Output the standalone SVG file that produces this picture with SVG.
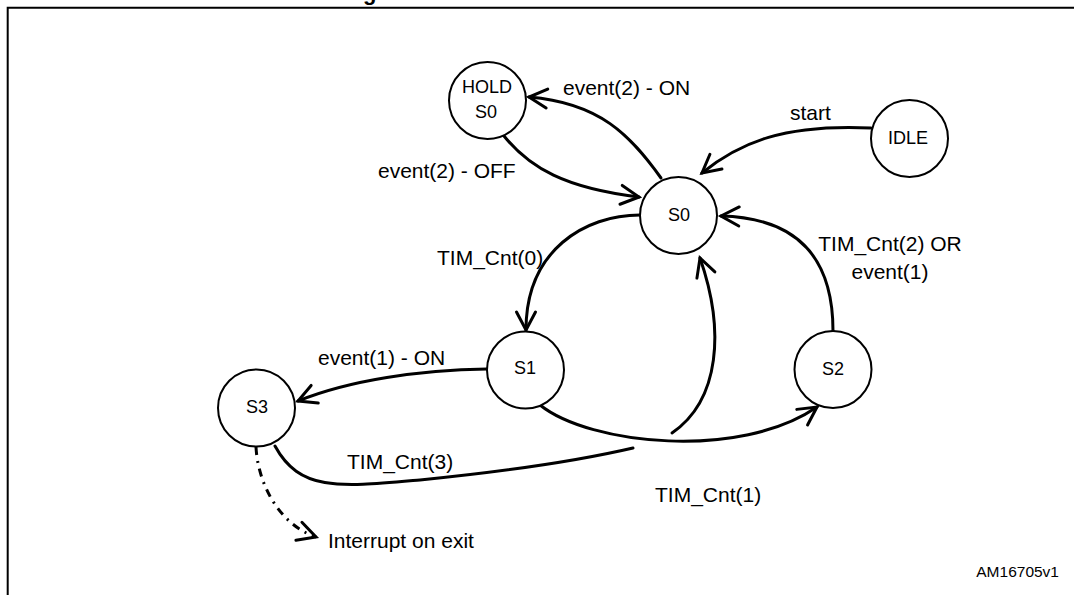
<svg xmlns="http://www.w3.org/2000/svg" width="1074" height="595" viewBox="0 0 1074 595">
<style>
.st{fill:#fff;stroke:#000;stroke-width:2}
.nl{font-family:"Liberation Sans",Arial,sans-serif;font-size:18px;fill:#000;text-anchor:middle}
.el{font-family:"Liberation Sans",Arial,sans-serif;font-size:21px;fill:#000}
.ed{fill:none;stroke:#000;stroke-width:3;stroke-linecap:round}
.dd{stroke-dasharray:8 6 2 6;stroke-linecap:butt}
</style>
<defs>
<marker id="ah" viewBox="-22 -12 26 24" refX="0" refY="0" markerWidth="26" markerHeight="24" markerUnits="userSpaceOnUse" orient="auto">
<path d="M-18,-9.5 L0,0 L-18,9.5" fill="none" stroke="#000" stroke-width="3" stroke-linecap="round"/>
</marker>
</defs>
<rect width="1074" height="595" fill="#fff"/>
<text x="363" y="-0.5" font-family="Liberation Sans,Arial,sans-serif" font-size="22" font-weight="bold">g</text>
<path d="M7.7,595 L7.7,7.7 L1074,7.7" fill="none" stroke="#000" stroke-width="2"/>
<g id="connectors">
<path class="ed" marker-end="url(#ah)" d="M661,178 C630,135 600,103 529,97"/>
<path class="ed" marker-end="url(#ah)" d="M504,136 C530,168 565,188 639,197"/>
<path class="ed" marker-end="url(#ah)" d="M871,128 C785,124 740,142 702,173"/>
<path class="ed" marker-end="url(#ah)" d="M640,215 C585,215 526,250 526,330"/>
<path class="ed" marker-end="url(#ah)" d="M833,331 C833,260 800,218 721,216"/>
<path class="ed" marker-end="url(#ah)" d="M487,369 C420,370 350,380 298,401"/>
<path class="ed" marker-end="url(#ah)" d="M540,405 C590,445 740,460 817,407"/>
<path class="ed" d="M275,446 C300,492 340,487 420,480 C520,470 590,458 633,448"/>
<path class="ed" marker-end="url(#ah)" d="M672,433 C720,400 725,330 700,258"/>
<path class="ed dd" marker-end="url(#ah)" d="M256,447 C258,485 280,525 316,537"/>
</g>
<g id="HOLD_S0"><circle class="st" cx="487.5" cy="100.5" r="38.5"/><text class="nl" x="487" y="93">HOLD</text><text class="nl" x="486" y="118">S0</text></g>
<g id="S0"><circle class="st" cx="678.5" cy="215.5" r="38.5"/><text class="nl" x="679" y="221">S0</text></g>
<g id="IDLE"><circle class="st" cx="909.5" cy="138.5" r="38.5"/><text class="nl" x="908" y="144">IDLE</text></g>
<g id="S1"><circle class="st" cx="525.5" cy="370" r="38.5"/><text class="nl" x="525" y="374">S1</text></g>
<g id="S2"><circle class="st" cx="833" cy="369.5" r="38.5"/><text class="nl" x="833" y="375">S2</text></g>
<g id="S3"><circle class="st" cx="256.5" cy="408" r="38.5"/><text class="nl" x="257" y="413">S3</text></g>
<g id="labels">
<text class="el" x="563" y="95">event(2) - ON</text>
<text class="el" x="378" y="178">event(2) - OFF</text>
<text class="el" x="790" y="120">start</text>
<text class="el" x="437" y="265">TIM_Cnt(0)</text>
<text class="el" x="890" y="251" text-anchor="middle">TIM_Cnt(2) OR</text>
<text class="el" x="890" y="279" text-anchor="middle">event(1)</text>
<text class="el" x="318" y="365">event(1) - ON</text>
<text class="el" x="347" y="469">TIM_Cnt(3)</text>
<text class="el" x="655" y="502">TIM_Cnt(1)</text>
<text class="el" x="328" y="548">Interrupt on exit</text>
<text x="1059" y="577" text-anchor="end" font-family="Liberation Sans,Arial,sans-serif" font-size="15.5">AM16705v1</text>
</g>
</svg>
